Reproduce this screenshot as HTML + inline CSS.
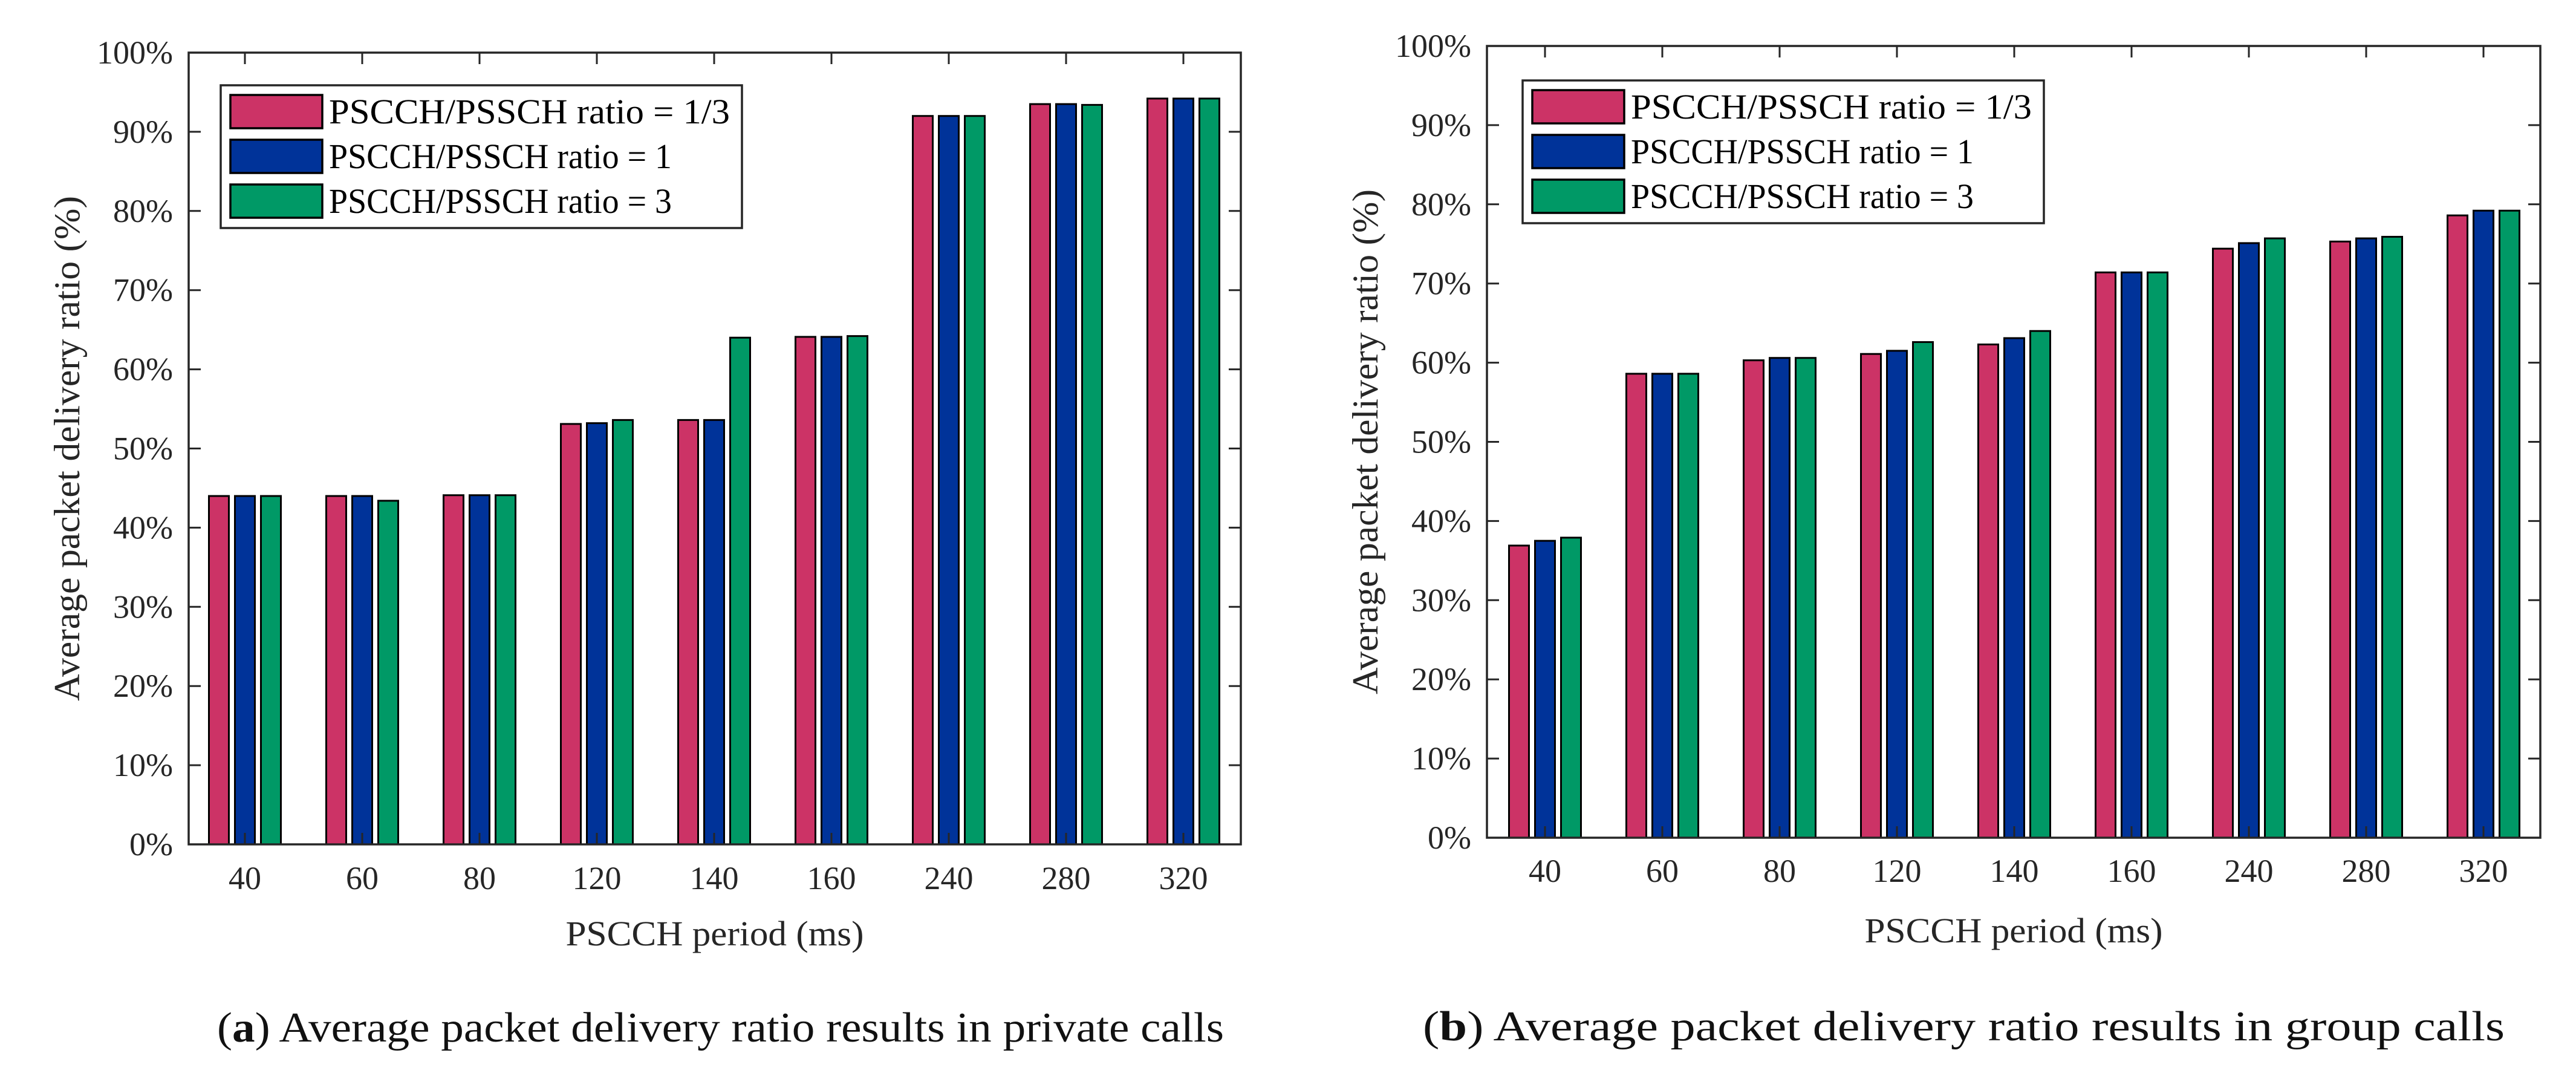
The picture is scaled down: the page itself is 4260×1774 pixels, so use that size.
<!DOCTYPE html>
<html><head><meta charset="utf-8"><style>
html,body{margin:0;padding:0;background:#fff;}
svg{display:block;}
text{font-family:"Liberation Serif",serif;fill:#262626;}
</style></head><body>
<svg id="fig" width="4260" height="1774" viewBox="0 0 4260 1774" xmlns="http://www.w3.org/2000/svg"></svg>
<script>
const categories = ["40","60","80","120","140","160","240","280","320"];
const seriesNames = ["PSCCH/PSSCH ratio = 1/3","PSCCH/PSSCH ratio = 1","PSCCH/PSSCH ratio = 3"];
const privateR13 = [44.0,44.0,44.1,53.1,53.6,64.1,92.0,93.5,94.2];
const privateR1  = [44.0,44.0,44.1,53.2,53.6,64.1,92.0,93.5,94.2];
const privateR3  = [44.0,43.4,44.1,53.6,64.0,64.2,92.0,93.4,94.2];
const groupR13 = [36.9,58.6,60.3,61.1,62.3,71.4,74.4,75.3,78.6];
const groupR1  = [37.5,58.6,60.6,61.5,63.1,71.4,75.1,75.7,79.2];
const groupR3  = [37.9,58.6,60.6,62.6,64.0,71.4,75.7,75.9,79.2];
const yTicks = [0,10,20,30,40,50,60,70,80,90,100];
const colors = ["#CC3366","#003399","#009966"];

const NS="http://www.w3.org/2000/svg";
const svg=document.getElementById('fig');
function mk(tag,attrs,parent){const e=document.createElementNS(NS,tag);for(const k in attrs)e.setAttribute(k,attrs[k]);(parent||svg).appendChild(e);return e;}

function drawChart(cfg){
  const g=mk('g',{});
  
  
  const L=cfg.left,R=cfg.right,T=cfg.top,B=cfg.bottom;
  const yS=v=>B-(v/100)*(B-T);
  const spacing=194;
  const xS=i=>cfg.firstCenter+i*spacing;
  const series=cfg.series;
  // bars
  series.forEach((vals,s)=>{
    vals.forEach((v,i)=>{
      const cx=xS(i)+(s-1)*43;
      const r=mk('rect',{x:cx-16.5,y:yS(v),width:33,height:B-yS(v),fill:colors[s],stroke:'#000','stroke-width':3},g);
      
      
    });
  });
  // axes box
  const box=mk('rect',{x:L,y:T,width:R-L,height:B-T,fill:'none',stroke:'#262626','stroke-width':3.5},g);
  
  
  // y ticks
  yTicks.forEach(t=>{
    const y=yS(t);
    mk('line',{x1:L,x2:L+20,y1:y,y2:y,stroke:'#262626','stroke-width':3},g);
    mk('line',{x1:R,x2:R-20,y1:y,y2:y,stroke:'#262626','stroke-width':3},g);
    const tx=mk('text',{x:L-26,y:y+18,'text-anchor':'end','font-size':54},g);
    tx.textContent=t+'%';
    
    
  });
  // x ticks
  categories.forEach((c,i)=>{
    const x=xS(i);
    mk('line',{x1:x,x2:x,y1:B,y2:B-19,stroke:'#262626','stroke-width':3},g);
    mk('line',{x1:x,x2:x,y1:T,y2:T+19,stroke:'#262626','stroke-width':3},g);
    const tx=mk('text',{x:x,y:cfg.xTickY,'text-anchor':'middle','font-size':54},g);
    tx.textContent=c;
    
    
  });
  // x label
  const xl=mk('text',{x:(L+R)/2,y:cfg.xLabelY,'text-anchor':'middle','font-size':58,textLength:493,lengthAdjust:'spacingAndGlyphs'},g);
  xl.textContent='PSCCH period (ms)';
  
  
  // y label
  const cy=(T+B)/2;
  const yl=mk('text',{x:0,y:0,'text-anchor':'middle','font-size':60,textLength:835,lengthAdjust:'spacingAndGlyphs',transform:'translate('+(L-181)+','+cy+') rotate(-90)'},g);
  yl.textContent='Average packet delivery ratio (%)';
  
  
  // legend
  const lg=mk('g',{},g);
  
  
  mk('rect',{x:cfg.legX,y:cfg.legY,width:862,height:236,fill:'#fff',stroke:'#262626','stroke-width':3.5},lg);
  seriesNames.forEach((n,s)=>{
    const ry=cfg.legY+16+s*74;
    const sw=mk('rect',{x:cfg.legX+16,y:ry,width:152,height:55,fill:colors[s],stroke:'#000','stroke-width':3.5},lg);
    
    
    const t=mk('text',{x:cfg.legX+179,y:ry+47,'font-size':58,fill:'#000',textLength:[663,567,567][s],lengthAdjust:'spacingAndGlyphs'},lg);
    t.style.fill='#000';
    t.textContent=n;
    
    
  });
  // caption
  const cap=mk('text',{x:cfg.capX,y:cfg.capY,'font-size':70,textLength:cfg.capLen,lengthAdjust:'spacingAndGlyphs'},g);
  cap.style.fill='#111';
  const b1=mk('tspan',{},cap);b1.textContent='(';
  const b2=mk('tspan',{'font-weight':'bold'},cap);b2.textContent=cfg.letter;
  const b3=mk('tspan',{},cap);b3.textContent=') '+cfg.caption;
  
  
}

drawChart({name:'chart-private-calls',left:312,right:2052,top:87,bottom:1396,firstCenter:405,
  series:[privateR13,privateR1,privateR3],xTickY:1470,xLabelY:1563,legX:365,legY:141,
  capX:359,capY:1722,capLen:1665,letter:'a',caption:'Average packet delivery ratio results in private calls'});
drawChart({name:'chart-group-calls',left:2459,right:4201,top:76,bottom:1385,firstCenter:2555,
  series:[groupR13,groupR1,groupR3],xTickY:1458,xLabelY:1558,legX:2518,legY:133,
  capX:2353,capY:1720,capLen:1789,letter:'b',caption:'Average packet delivery ratio results in group calls'});
</script>
</body></html>
